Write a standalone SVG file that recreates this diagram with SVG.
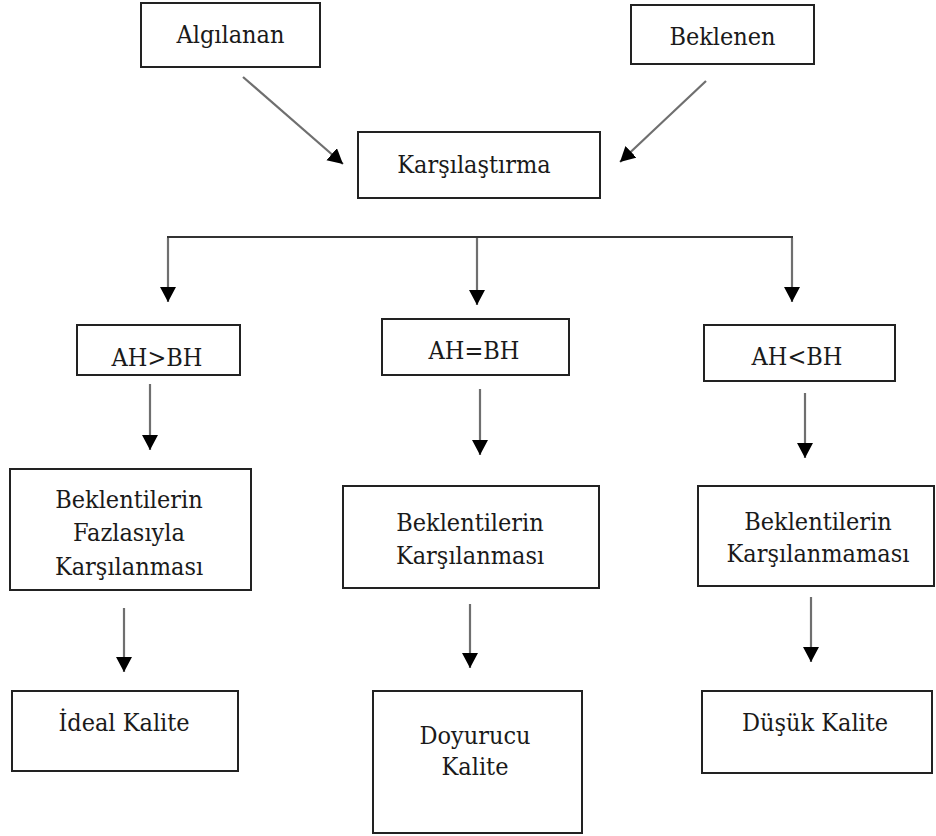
<svg xmlns="http://www.w3.org/2000/svg" width="936" height="836" viewBox="0 0 936 836">
  <style>
    .box { fill: #ffffff; stroke: #222222; stroke-width: 2; }
    text { font-family: 'DejaVu Serif Condensed', 'DejaVu Serif', serif; font-stretch: condensed; font-size: 25px; fill: #1a1a1a; text-anchor: middle; }
    .shaft { stroke: #6f6f6f; stroke-width: 2.2; fill: none; }
    .bus { stroke: #333333; stroke-width: 2; fill: none; }
  </style>
  <defs>
    <marker id="arrow" markerUnits="userSpaceOnUse" markerWidth="17" markerHeight="17" refX="15" refY="8" orient="auto">
      <path d="M0,0 L15,8 L0,16 Z" fill="#000000"/>
    </marker>
  </defs>
  <rect x="0" y="0" width="936" height="836" fill="#ffffff"/>

  <!-- connectors -->
  <g id="connectors">
    <line class="shaft" x1="243" y1="77" x2="343" y2="164" marker-end="url(#arrow)"/>
    <line class="shaft" x1="706" y1="81" x2="620" y2="162" marker-end="url(#arrow)"/>
    <polyline class="bus" points="168,290 168,237 792,237 792,290"/>
    <line class="shaft" x1="168" y1="238" x2="168" y2="302" marker-end="url(#arrow)"/>
    <line class="shaft" x1="477" y1="238" x2="477" y2="305" marker-end="url(#arrow)"/>
    <line class="shaft" x1="792" y1="238" x2="792" y2="302" marker-end="url(#arrow)"/>
    <line class="shaft" x1="150" y1="384" x2="150" y2="450" marker-end="url(#arrow)"/>
    <line class="shaft" x1="480" y1="389" x2="480" y2="455" marker-end="url(#arrow)"/>
    <line class="shaft" x1="805" y1="393" x2="805" y2="458" marker-end="url(#arrow)"/>
    <line class="shaft" x1="124" y1="608" x2="124" y2="672" marker-end="url(#arrow)"/>
    <line class="shaft" x1="470" y1="604" x2="470" y2="668" marker-end="url(#arrow)"/>
    <line class="shaft" x1="811" y1="597" x2="811" y2="662" marker-end="url(#arrow)"/>
  </g>

  <g id="algilanan">
    <rect class="box" x="141" y="3" width="179" height="64"/>
    <text x="230.5" y="43">Algılanan</text>
  </g>
  <g id="beklenen">
    <rect class="box" x="631" y="5" width="183" height="59"/>
    <text x="722.5" y="45">Beklenen</text>
  </g>
  <g id="karsilastirma">
    <rect class="box" x="358" y="132" width="242" height="66"/>
    <text x="474" y="173">Karşılaştırma</text>
  </g>

  <g id="ah-gt-bh">
    <rect class="box" x="77" y="325" width="163" height="50"/>
    <text x="157" y="366">AH&gt;BH</text>
  </g>
  <g id="ah-eq-bh">
    <rect class="box" x="382" y="319" width="187" height="56"/>
    <text x="474" y="359">AH=BH</text>
  </g>
  <g id="ah-lt-bh">
    <rect class="box" x="704" y="325" width="191" height="56"/>
    <text x="797" y="365">AH&lt;BH</text>
  </g>

  <g id="fazlasiyla">
    <rect class="box" x="10" y="469" width="241" height="121"/>
    <text x="129" y="508">Beklentilerin</text>
    <text x="129" y="541">Fazlasıyla</text>
    <text x="129" y="575">Karşılanması</text>
  </g>
  <g id="karsilanmasi">
    <rect class="box" x="343" y="486" width="256" height="102"/>
    <text x="470" y="531">Beklentilerin</text>
    <text x="470" y="564">Karşılanması</text>
  </g>
  <g id="karsilanmamasi">
    <rect class="box" x="698" y="486" width="236" height="100"/>
    <text x="818" y="530">Beklentilerin</text>
    <text x="818" y="562">Karşılanmaması</text>
  </g>

  <g id="ideal">
    <rect class="box" x="12" y="691" width="226" height="80"/>
    <text x="124" y="731">İdeal Kalite</text>
  </g>
  <g id="doyurucu">
    <rect class="box" x="373" y="691" width="209" height="142"/>
    <text x="475" y="744">Doyurucu</text>
    <text x="475" y="775">Kalite</text>
  </g>
  <g id="dusuk">
    <rect class="box" x="702" y="691" width="230" height="82"/>
    <text x="815" y="731">Düşük Kalite</text>
  </g>
</svg>
